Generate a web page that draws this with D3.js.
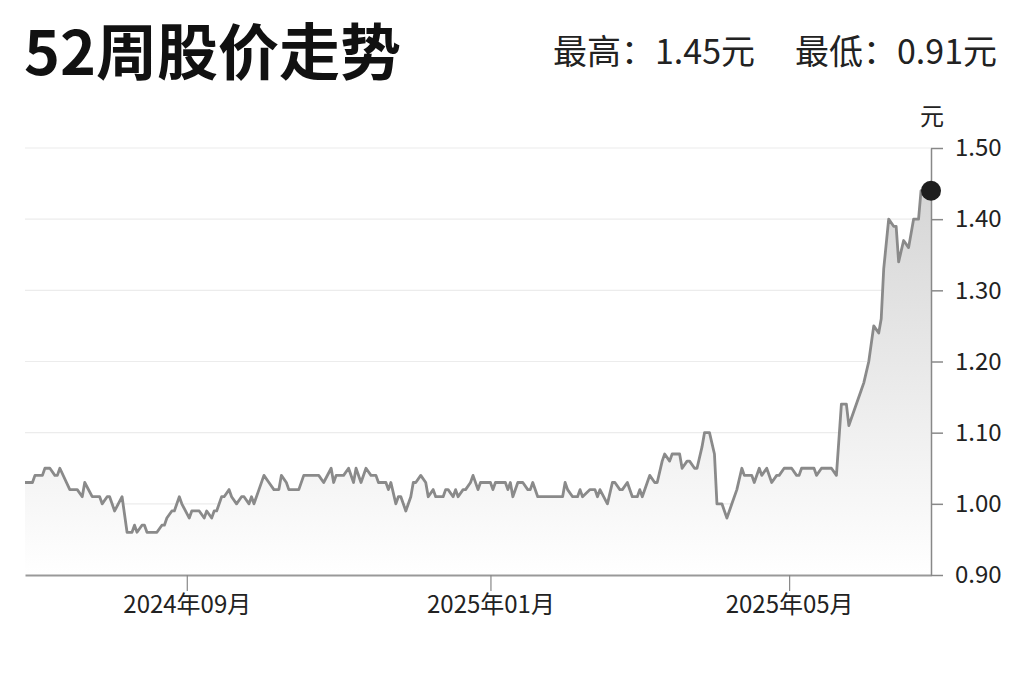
<!DOCTYPE html>
<html>
<head>
<meta charset="utf-8">
<script src="https://cdn.jsdelivr.net/npm/d3@7"></script>
<style>
   body { margin: 0; background: #fff; }
   text { font-family: "Noto Sans CJK SC", "Noto Sans", sans-serif; }
</style>
</head>
<body>
<svg width="1024" height="682"></svg>
<script>
// texts
const title = '52周股价走势'
const highLabel = '最高：1.45元'
const lowLabel = '最低：0.91元'
const unitLabel = '元'

// price series
const dates = [
   '2024-06-28','2024-07-01','2024-07-02','2024-07-05','2024-07-06','2024-07-08','2024-07-10','2024-07-11','2024-07-12','2024-07-16',
   '2024-07-19','2024-07-21','2024-07-22','2024-07-25','2024-07-28','2024-07-29','2024-07-31','2024-08-01','2024-08-03','2024-08-06',
   '2024-08-08','2024-08-10','2024-08-11','2024-08-12','2024-08-14','2024-08-15','2024-08-16','2024-08-20','2024-08-22','2024-08-23',
   '2024-08-24','2024-08-26','2024-08-27','2024-08-29','2024-08-30','2024-09-02','2024-09-03','2024-09-06','2024-09-08','2024-09-09',
   '2024-09-11','2024-09-12','2024-09-13','2024-09-15','2024-09-16','2024-09-18','2024-09-19','2024-09-21','2024-09-23','2024-09-24',
   '2024-09-26','2024-09-27','2024-09-28','2024-09-30','2024-10-02','2024-10-04','2024-10-06','2024-10-08','2024-10-09','2024-10-11',
   '2024-10-12','2024-10-16','2024-10-18','2024-10-24','2024-10-26','2024-10-29','2024-10-30','2024-10-31','2024-11-03','2024-11-05',
   '2024-11-07','2024-11-08','2024-11-10','2024-11-12','2024-11-14','2024-11-16','2024-11-17','2024-11-20','2024-11-21','2024-11-22',
   '2024-11-24','2024-11-25','2024-11-26','2024-11-28','2024-11-30','2024-12-01','2024-12-02','2024-12-04','2024-12-06','2024-12-07',
   '2024-12-09','2024-12-10','2024-12-13','2024-12-14','2024-12-15','2024-12-17','2024-12-18','2024-12-19','2024-12-21','2024-12-22',
   '2024-12-24','2024-12-25','2024-12-27','2024-12-28','2025-01-01','2025-01-02','2025-01-03','2025-01-07','2025-01-08','2025-01-09',
   '2025-01-10','2025-01-12','2025-01-14','2025-01-16','2025-01-17','2025-01-18','2025-01-20','2025-01-30','2025-01-31','2025-02-01',
   '2025-02-03','2025-02-05','2025-02-06','2025-02-07','2025-02-10','2025-02-12','2025-02-13','2025-02-14','2025-02-17','2025-02-19',
   '2025-02-20','2025-02-22','2025-02-23','2025-02-25','2025-02-27','2025-03-01','2025-03-02','2025-03-03','2025-03-05','2025-03-06',
   '2025-03-08','2025-03-09','2025-03-11','2025-03-12','2025-03-14','2025-03-15','2025-03-18','2025-03-19','2025-03-21','2025-03-22',
   '2025-03-24','2025-03-25','2025-03-27','2025-03-28','2025-03-30','2025-04-01','2025-04-02','2025-04-04','2025-04-06','2025-04-08',
   '2025-04-10','2025-04-12','2025-04-13','2025-04-16','2025-04-17','2025-04-19','2025-04-20','2025-04-22','2025-04-24','2025-04-26',
   '2025-04-27','2025-04-29','2025-05-02','2025-05-04','2025-05-05','2025-05-06','2025-05-11','2025-05-12','2025-05-14','2025-05-18',
   '2025-05-20','2025-05-22','2025-05-24','2025-05-25','2025-05-27','2025-05-30','2025-05-31','2025-06-02','2025-06-04','2025-06-06',
   '2025-06-07','2025-06-08','2025-06-10','2025-06-12','2025-06-13','2025-06-14','2025-06-16','2025-06-18','2025-06-20','2025-06-22',
   '2025-06-23','2025-06-25','2025-06-27'
]
const prices = [
   1.03,1.03,1.04,1.04,1.05,1.05,1.04,1.04,1.05,1.02,
   1.02,1.01,1.03,1.01,1.01,1.00,1.01,1.01,0.99,1.01,
   0.96,0.96,0.97,0.96,0.97,0.97,0.96,0.96,0.97,0.97,
   0.98,0.99,0.99,1.01,1.00,0.98,0.99,0.99,0.98,0.99,
   0.98,0.99,0.99,1.01,1.01,1.02,1.01,1.00,1.01,1.01,
   1.00,1.01,1.00,1.02,1.04,1.03,1.02,1.02,1.04,1.03,
   1.02,1.02,1.04,1.04,1.03,1.05,1.03,1.04,1.04,1.05,
   1.03,1.05,1.03,1.05,1.04,1.04,1.03,1.03,1.02,1.03,
   1.00,1.01,1.01,0.99,1.01,1.03,1.03,1.04,1.03,1.01,
   1.02,1.01,1.01,1.02,1.02,1.01,1.02,1.01,1.02,1.02,
   1.03,1.04,1.02,1.03,1.03,1.02,1.03,1.03,1.02,1.03,
   1.01,1.03,1.03,1.02,1.02,1.03,1.01,1.01,1.03,1.02,
   1.01,1.01,1.02,1.01,1.02,1.02,1.01,1.02,1.00,1.03,
   1.03,1.02,1.02,1.03,1.01,1.01,1.02,1.01,1.03,1.04,
   1.03,1.03,1.06,1.07,1.06,1.07,1.07,1.05,1.06,1.06,
   1.05,1.05,1.08,1.10,1.10,1.07,1.00,1.00,0.98,1.00,
   1.02,1.05,1.04,1.04,1.03,1.05,1.04,1.05,1.03,1.04,
   1.04,1.05,1.05,1.04,1.04,1.05,1.05,1.04,1.05,1.05,
   1.04,1.14,1.14,1.11,1.13,1.16,1.17,1.20,1.25,1.24,
   1.26,1.33,1.40,1.39,1.39,1.34,1.37,1.36,1.40,1.40,
   1.44,1.44,1.44
]

// axes
const yTicks = [0.90, 1.00, 1.10, 1.20, 1.30, 1.40, 1.50]
const xTicks = ['2024-09-01', '2025-01-01', '2025-05-01']
const xStart = '2024-06-28'
const xEnd = '2025-06-27'

const parse = d3.timeParse('%Y-%m-%d')
const data = dates.map((d, i) => ({date: parse(d), price: prices[i]}))

const svg = d3.select('svg')
const margin = {top: 148, right: 93, bottom: 107, left: 25}
const graphWidth = 1024 - margin.left - margin.right
const graphHeight = 682 - margin.top - margin.bottom

// header
svg.append('text')
   .attr('x', 24)
   .attr('y', 75)
   .attr('font-size', 61)
   .attr('font-weight', 700)
   .attr('fill', '#111')
   .text(title)

svg.append('text')
   .attr('x', 755)
   .attr('y', 64)
   .attr('text-anchor', 'end')
   .attr('font-size', 34)
   .attr('fill', '#222')
   .text(highLabel)

svg.append('text')
   .attr('x', 997)
   .attr('y', 64)
   .attr('text-anchor', 'end')
   .attr('font-size', 34)
   .attr('fill', '#222')
   .text(lowLabel)

const graph = svg.append('g')
   .attr('transform', `translate(${margin.left},${margin.top})`)

//scales
const x = d3.scaleTime()
   .domain([parse(xStart), parse(xEnd)])
   .range([0, graphWidth])

const y = d3.scaleLinear()
   .domain([d3.min(yTicks), d3.max(yTicks)])
   .range([graphHeight, 0])

// gradient for the area
const grad = svg.append('defs').append('linearGradient')
   .attr('id', 'fade')
   .attr('x1', 0).attr('y1', 0)
   .attr('x2', 0).attr('y2', 1)
grad.append('stop').attr('offset', '0%').attr('stop-color', '#d6d6d6')
grad.append('stop').attr('offset', '100%').attr('stop-color', '#ffffff')

// grid lines
graph.append('g')
   .selectAll('line')
   .data(yTicks.slice(1))
   .enter()
   .append('line')
   .attr('x1', 0)
   .attr('x2', graphWidth)
   .attr('y1', d => y(d))
   .attr('y2', d => y(d))
   .attr('stroke', '#ececec')
   .attr('stroke-width', 1.2)

// area + line
const area = d3.area()
   .x(d => x(d.date))
   .y0(graphHeight)
   .y1(d => y(d.price))

const line = d3.line()
   .x(d => x(d.date))
   .y(d => y(d.price))

graph.append('path')
   .datum(data)
   .attr('d', area)
   .attr('fill', 'url(#fade)')

graph.append('path')
   .datum(data)
   .attr('d', line)
   .attr('fill', 'none')
   .attr('stroke', '#8a8a8a')
   .attr('stroke-width', 2.8)
   .attr('stroke-linejoin', 'round')

// create the axis
const xAxis = d3.axisBottom(x)
   .tickValues(xTicks.map(parse))
   .tickFormat(d3.timeFormat('%Y年%m月'))
   .tickSize(16)
   .tickSizeOuter(0)
   .tickPadding(5)

const yAxis = d3.axisRight(y)
   .tickValues(yTicks)
   .tickFormat(d3.format('.2f'))
   .tickSize(12)
   .tickSizeOuter(0)
   .tickPadding(12)

const xAxisGroup = graph.append('g')
   .attr('transform', `translate(0, ${graphHeight})`)
   .call(xAxis)

const yAxisGroup = graph.append('g')
   .attr('transform', `translate(${graphWidth}, 0)`)
   .call(yAxis)

xAxisGroup.select('.domain').attr('stroke', '#999').attr('stroke-width', 2)
xAxisGroup.selectAll('.tick line').attr('stroke', '#888').attr('stroke-width', 1.2)
xAxisGroup.selectAll('text')
   .attr('font-size', 24)
   .attr('fill', '#222')
   .style('font-family', '"Noto Sans CJK SC", sans-serif')

yAxisGroup.select('.domain').attr('stroke', '#888').attr('stroke-width', 1.5)
yAxisGroup.selectAll('.tick line').attr('stroke', '#888').attr('stroke-width', 1.5)
yAxisGroup.selectAll('text')
   .attr('font-size', 24)
   .attr('fill', '#222')
   .style('font-family', '"Noto Sans CJK SC", sans-serif')

// unit
graph.append('text')
   .attr('x', graphWidth + 1)
   .attr('y', -23)
   .attr('text-anchor', 'middle')
   .attr('font-size', 24)
   .attr('fill', '#222')
   .text(unitLabel)

// last price dot
const last = data[data.length - 1]
graph.append('circle')
   .attr('cx', x(last.date))
   .attr('cy', y(last.price))
   .attr('r', 10)
   .attr('fill', '#1e1e1e')
</script>
</body>
</html>
